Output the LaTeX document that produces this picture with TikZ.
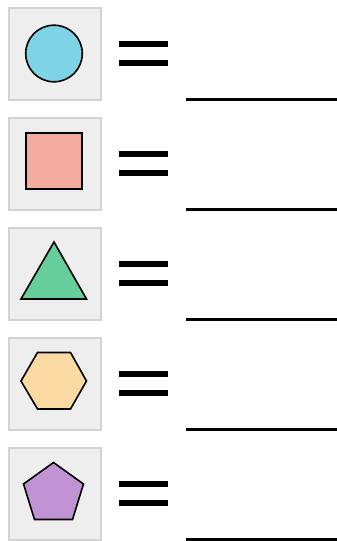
\documentclass[tikz,border=0pt]{standalone}
\usetikzlibrary{shapes.geometric}
\definecolor{boxfill}{HTML}{EEEEEE}
\definecolor{boxline}{HTML}{D3D3D3}
\definecolor{cblue}{HTML}{7FD3E6}
\definecolor{csalmon}{HTML}{F4ACA1}
\definecolor{cgreen}{HTML}{67CF9B}
\definecolor{corange}{HTML}{FBD9A3}
\definecolor{cpurple}{HTML}{C193D4}
\tikzset{
  tile/.style={draw=boxline, fill=boxfill, line width=2pt},
  shp/.style={draw=black, line width=1.6pt, line join=miter},
  eqbar/.style={line width=6pt},
  blank/.style={line width=3pt}
}
\begin{document}
\begin{tikzpicture}[x=1pt,y=-1pt]
\useasboundingbox (0,0) rectangle (337,541);
\foreach \i in {0,...,4}{
  \pgfmathsetmacro{\oy}{110*\i}
  \draw[tile] (8.5,7.5+\oy) rectangle (100.5,99.5+\oy);
  \draw[eqbar] (119,44+\oy) -- (168,44+\oy);
  \draw[eqbar] (119,62.5+\oy) -- (168,62.5+\oy);
  \draw[blank] (186,99+\oy) -- (337,99+\oy);
}
% circle
\draw[shp, fill=cblue] (54,53.5) circle (28.3);
% square
\draw[shp, fill=csalmon] (26,133) rectangle (82,189);
% triangle
\draw[shp, fill=cgreen] (54,242) -- (86.5,299) -- (21,299) -- cycle;
% hexagon
\draw[shp, fill=corange] (21,381) -- (37.5,352.5) -- (70.5,352.5) -- (86.5,381) -- (70.5,409) -- (37.5,409) -- cycle;
% pentagon
\draw[shp, fill=cpurple] (53.5,462.5) -- (83.5,484) -- (72.5,519.5) -- (34.5,519.5) -- (23.5,484) -- cycle;
\end{tikzpicture}
\end{document}
